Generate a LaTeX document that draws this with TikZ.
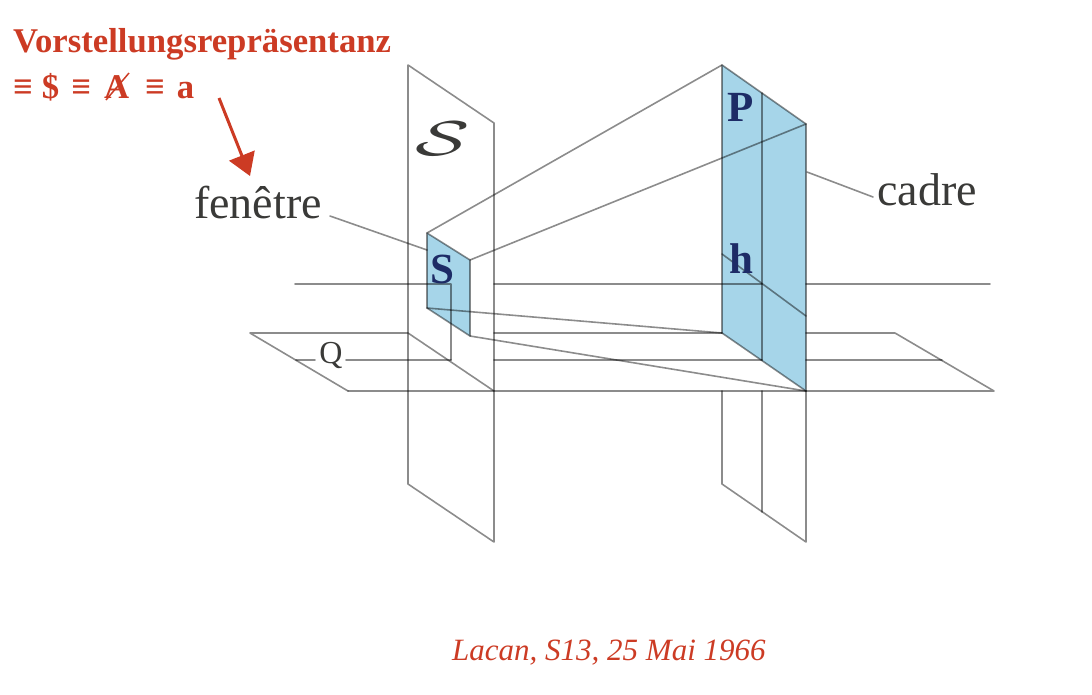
\documentclass[tikz,border=0pt]{standalone}
\usepackage{fontspec}
\setmainfont{Liberation Serif}
\usetikzlibrary{arrows.meta}
\definecolor{redtxt}{HTML}{CC3B24}
\definecolor{paneblue}{HTML}{A6D5E9}
\definecolor{navy}{HTML}{1D2B66}
\definecolor{inktxt}{HTML}{3A3A38}
\tikzset{
  edge/.style={draw=black,draw opacity=.45,line width=1.6pt,line cap=round,line join=round},
  pane/.style={fill=paneblue,draw=none},
  redlabel/.style={text=redtxt,font=\fontsize{34.7}{36}\selectfont\bfseries,anchor=base west,inner sep=0pt},
  inklabel/.style={text=inktxt,font=\fontsize{46}{46}\selectfont,anchor=base west,inner sep=0pt},
  navylabel/.style={text=navy,font=\fontsize{43}{43}\selectfont\bfseries,anchor=base,inner sep=0pt},
}
\begin{document}
\begin{tikzpicture}[x=1pt,y=-1pt]
\useasboundingbox (0,0) rectangle (1092,694);
% plane S
\coordinate (sa) at (408,65); \coordinate (sb) at (494,123);
\coordinate (sc) at (494,542); \coordinate (sd) at (408,484);
% window
\coordinate (wa) at (427,233); \coordinate (wb) at (470,260);
\coordinate (wc) at (470,336); \coordinate (wd) at (427,308);
% frame
\coordinate (fa) at (722,65); \coordinate (fb) at (806,124);
\coordinate (fc) at (806,391); \coordinate (fd) at (722,333);
\coordinate (ma) at (762,93); \coordinate (mb) at (762,360);
% lower part of the frame
\coordinate (la) at (722,391); \coordinate (lb) at (722,484);
\coordinate (lc) at (762,391); \coordinate (ld) at (762,512);
\coordinate (le) at (806,542);
% horizon
\coordinate (ha) at (295,284); \coordinate (hb) at (451,284); \coordinate (hc) at (451,360);
\coordinate (hd) at (494,284); \coordinate (he) at (762,284);
\coordinate (hf) at (806,284); \coordinate (hg) at (990,284);
\coordinate (ka) at (722,254); \coordinate (kb) at (806,316);
% floor
\coordinate (pa) at (250,333); \coordinate (pb) at (408,333); \coordinate (pc) at (494,391);
\coordinate (pd) at (348,391); \coordinate (pe) at (994,391); \coordinate (pf) at (895,333);
\coordinate (pg) at (806,333); \coordinate (ph) at (494,333);
\coordinate (qa) at (296,360); \coordinate (qb) at (315,360); \coordinate (qc) at (346,360);
\coordinate (qd) at (494,360); \coordinate (qe) at (806,360); \coordinate (qf) at (942,360);
% panes
\fill[pane] (wa) -- (wb) -- (wc) -- (wd) -- cycle;
\fill[pane] (fa) -- (fb) -- (fc) -- (fd) -- cycle;
% lines
\draw[edge] (sa) -- (sb) -- (sc) -- (sd) -- cycle;
\draw[edge] (wa) -- (wb) -- (wc) -- (wd) -- cycle;
\draw[edge] (fa) -- (fb) -- (fc) -- (fd) -- cycle;
\draw[edge] (ma) -- (mb);
\draw[edge] (wa) -- (fa);
\draw[edge] (wb) -- (fb);
\draw[edge] (wd) -- (fd);
\draw[edge] (wc) -- (fc);
\draw[edge] (la) -- (lb) -- (le) -- (fc);
\draw[edge] (lc) -- (ld);
\draw[edge] (ha) -- (hb) -- (hc);
\draw[edge] (hd) -- (he);
\draw[edge] (hf) -- (hg);
\draw[edge] (ka) -- (kb);
\draw[edge] (pd) -- (pa) -- (pb) -- (pc);
\draw[edge] (pd) -- (pe) -- (pf) -- (pg);
\draw[edge] (ph) -- (fd);
\draw[edge] (qa) -- (qb);
\draw[edge] (qc) -- (hc);
\draw[edge] (qd) -- (mb);
\draw[edge] (qe) -- (qf);
% labels
\node[redlabel] (title) at (13,52) {Vorstellungsrepräsentanz};
\node[redlabel] (equiv) at (13,98) {≡\hspace{9pt}\$\hspace{12pt}≡\hspace{13pt}A\hspace{16pt}≡\hspace{12pt}a};
\coordinate (sla) at (106,100); \coordinate (slb) at (129,73);
\draw[redtxt,line width=1.5pt] (sla) -- (slb);
\node[inklabel] (fen) at (194,218) {fenêtre};
\node[inklabel] (cad) at (877,205) {cadre};
\node[text=inktxt,font=\fontsize{32}{32}\selectfont,anchor=base,inner sep=0pt] (qlab) at (331,363) {Q};
\node[text=inktxt,anchor=base,inner sep=0pt,xscale=8,yscale=4.9] (script) at (443,155) {$\mathcal{S}$};
\node[navylabel] (slab) at (442,283) {S};
\node[navylabel] (plab) at (741,121) {P};
\node[navylabel] (hlab) at (741,273) {h};
\node[text=redtxt,font=\fontsize{31}{31}\selectfont\itshape,anchor=base west,inner sep=0pt] (cap) at (452,660) {Lacan, S13, 25 Mai 1966};
% leaders
\coordinate (fl) at (330,216); \coordinate (fr) at (427,250);
\coordinate (cl) at (807,172); \coordinate (cr) at (873,197);
\draw[edge] (fl) -- (fr);
\draw[edge] (cl) -- (cr);
% red arrow
\coordinate (ra) at (219,98); \coordinate (rb) at (250,176);
\draw[redtxt,line width=3pt,-{Triangle[length=22pt,width=27pt]}] (ra) -- (rb);
\end{tikzpicture}
\end{document}
